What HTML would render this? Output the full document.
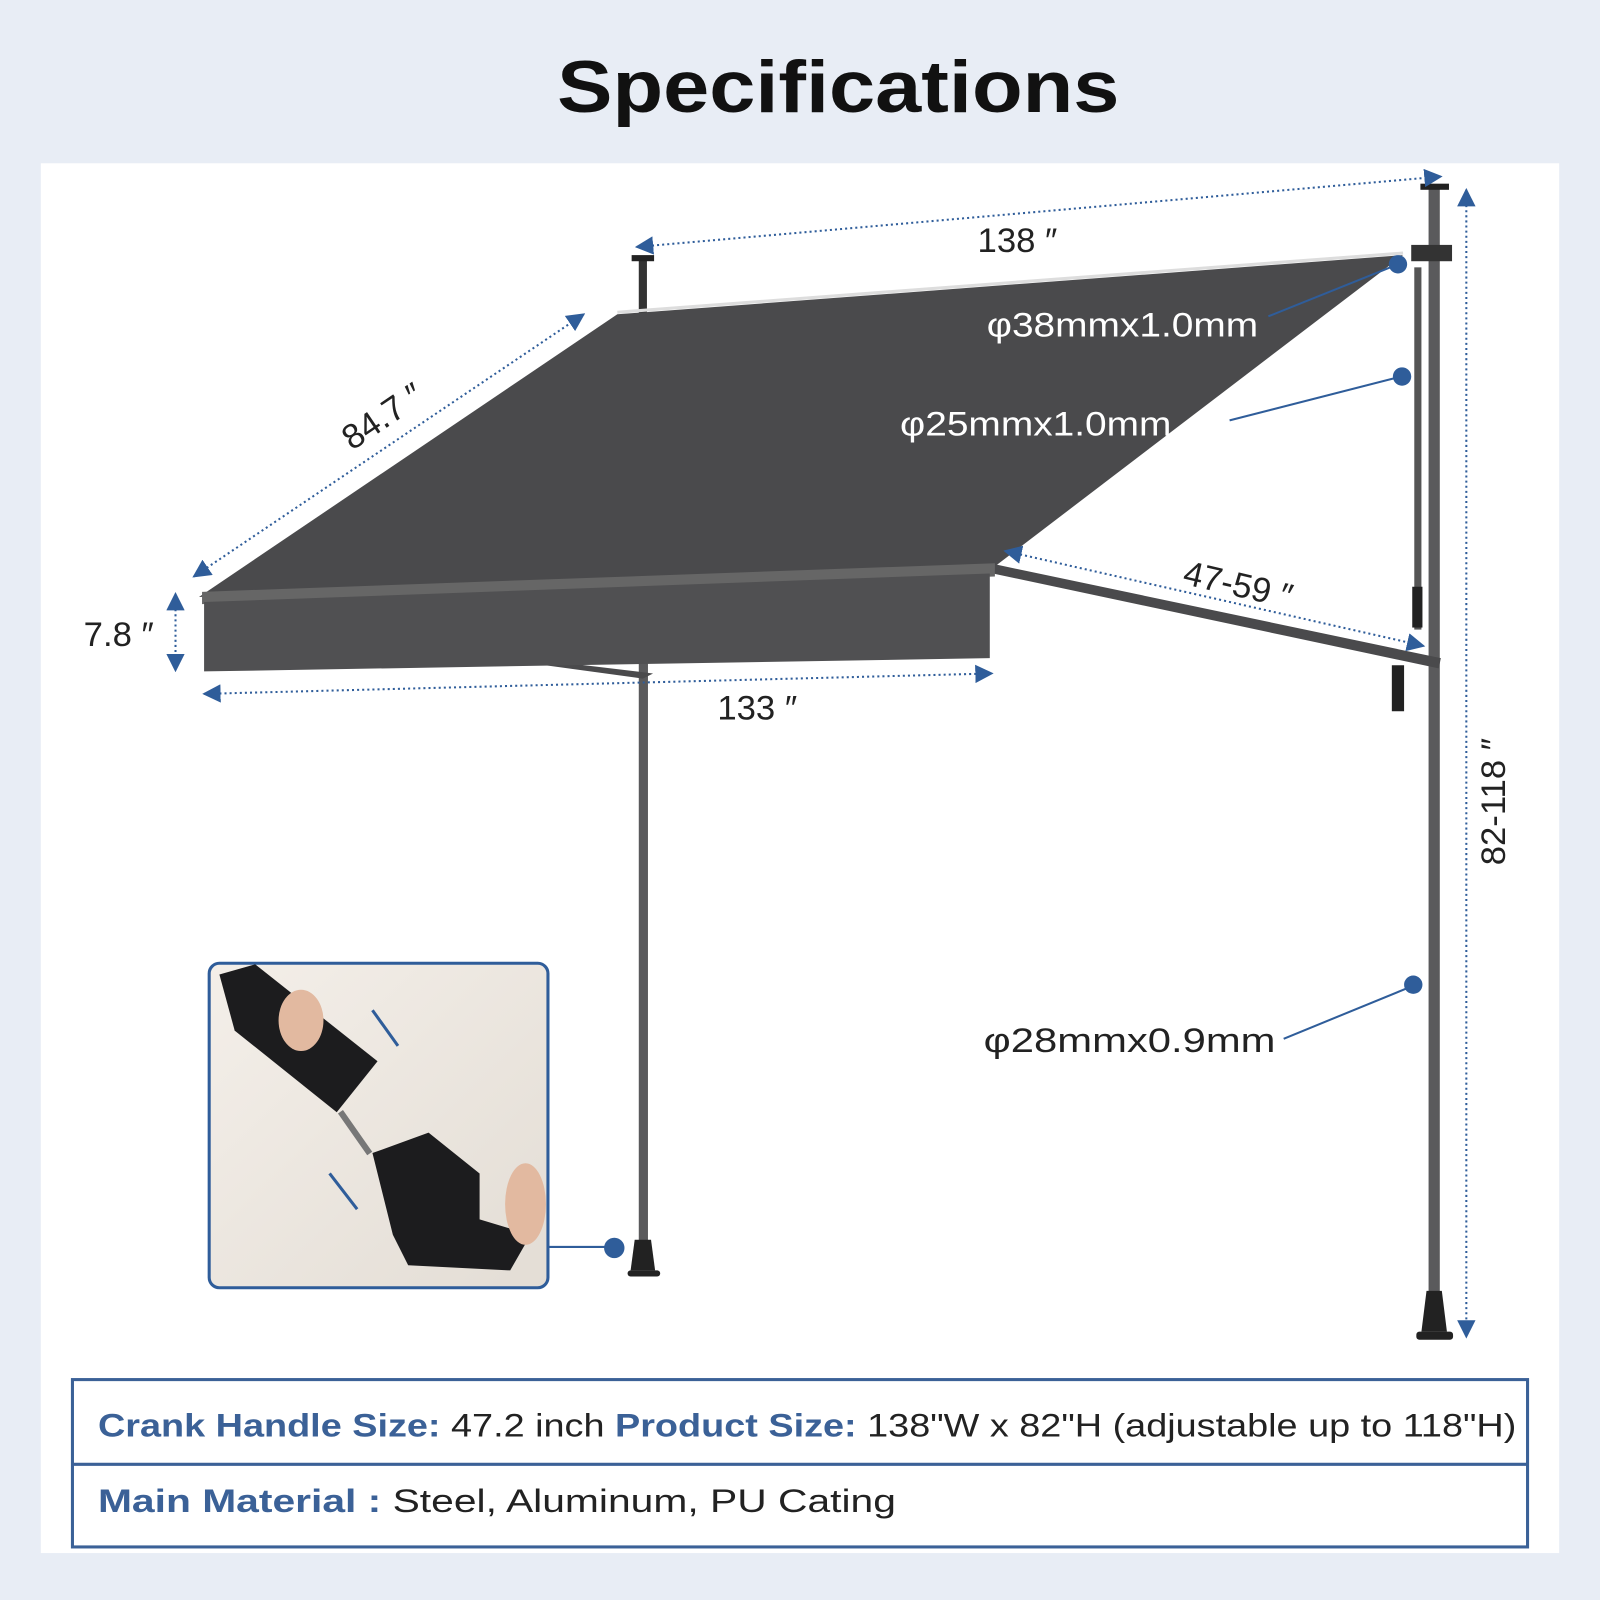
<!DOCTYPE html>
<html><head><meta charset="utf-8"><style>
html,body{margin:0;padding:0;background:#e8edf5;}
svg{display:block;}
text{font-family:"Liberation Sans",sans-serif;}
</style></head><body>
<svg width="1600" height="1600" viewBox="0 0 1568 1568" xmlns="http://www.w3.org/2000/svg">
<defs>
<marker id="a" viewBox="0 0 10 10" refX="9" refY="5" markerWidth="9" markerHeight="9" markerUnits="userSpaceOnUse" orient="auto-start-reverse"><path d="M0,0L10,5L0,10z" fill="#2f5d9a"/></marker>
<marker id="b" viewBox="0 0 10 10" refX="9" refY="5" markerWidth="18" markerHeight="18" markerUnits="userSpaceOnUse" orient="auto-start-reverse"><path d="M0,0L10,5L0,10z" fill="#2f5d9a"/></marker>
<linearGradient id="ph" x1="0" y1="0" x2="1" y2="1"><stop offset="0" stop-color="#f4efe9"/><stop offset="1" stop-color="#e3ddd5"/></linearGradient>
</defs>
<rect width="1568" height="1568" fill="#e8edf5"/>
<rect x="40" y="160" width="1488" height="1362" fill="#fff"/>
<text x="546" y="110" font-size="72" font-weight="bold" fill="#111" textLength="551" lengthAdjust="spacingAndGlyphs">Specifications</text>

<!-- poles -->
<rect x="626" y="255" width="8" height="52" fill="#333"/>
<rect x="619" y="250" width="22" height="6" fill="#222"/>
<rect x="626" y="650" width="9" height="570" fill="#5a5a5c"/>
<path d="M622,1215h16l4,30h-24z" fill="#222"/><rect x="615" y="1245" width="32" height="6" rx="3" fill="#222"/>
<rect x="1400" y="185" width="11" height="1085" fill="#5a5a5c"/>
<rect x="1392" y="180" width="28" height="6" fill="#222"/>
<path d="M1398,1265h15l5,40h-25z" fill="#222"/><rect x="1388" y="1305" width="36" height="8" rx="3" fill="#222"/>
<rect x="1386" y="262" width="7" height="355" fill="#555"/>
<rect x="1384" y="575" width="10" height="40" fill="#222"/>
<rect x="1383" y="240" width="40" height="16" fill="#333"/>
<!-- arm -->
<path d="M975,553L1412,645L1410,655L973,562z" fill="#4a4a4c"/>
<path d="M1364,652h12v45h-12z" fill="#222"/>
<path d="M520,650L630,665L640,660L540,648z" fill="#4a4a4c"/>
<!-- canvas -->
<path d="M605,308L1375,250L975,555L195,585z" fill="#4a4a4c"/>
<path d="M605,306L1375,248" stroke="#ddd" stroke-width="3"/>
<path d="M198,580L975,552L975,565L198,592z" fill="#666"/>
<path d="M200,590L970,562L970,645L200,658z" fill="#505052"/>
<!-- dimension lines -->
<g stroke="#2f5d9a" stroke-width="2" stroke-dasharray="2,3" fill="none" marker-start="url(#b)" marker-end="url(#b)">
<path d="M624,242L1412,173"/>
<path d="M190,565L572,308"/>
<path d="M172,582V657"/>
<path d="M200,680L972,660"/>
<path d="M985,540L1395,633"/>
<path d="M1437,186V1310"/>
</g>
<g fill="#222" font-size="34">
<text x="958" y="247">138 ″</text>
<text transform="translate(345,442) rotate(-34)">84.7 ″</text>
<text x="82" y="633">7.8 ″</text>
<text x="703" y="705">133 ″</text>
<text transform="translate(1158,572) rotate(13)">47-59 ″</text>
<text transform="translate(1475,848) rotate(-90)">82-118 ″</text>
</g>
<!-- callouts -->
<g stroke="#2f5d9a" stroke-width="2" fill="none">
<path d="M1243,310L1370,259"/><path d="M1205,412L1373,369"/><path d="M1258,1018L1385,966"/><path d="M538,1222H602"/>
</g>
<g fill="#2f5d9a"><circle cx="1370" cy="259" r="9"/><circle cx="1374" cy="369" r="9"/><circle cx="1385" cy="965" r="9"/><circle cx="602" cy="1223" r="10"/></g>
<text x="967" y="330" font-size="34" fill="#fff" textLength="266" lengthAdjust="spacingAndGlyphs">φ38mmx1.0mm</text>
<text x="882" y="427" font-size="34" fill="#fff" textLength="266" lengthAdjust="spacingAndGlyphs">φ25mmx1.0mm</text>
<text x="964" y="1031" font-size="34" fill="#222" textLength="286" lengthAdjust="spacingAndGlyphs">φ28mmx0.9mm</text>
<!-- photo -->
<rect x="205" y="944" width="332" height="318" rx="10" fill="url(#ph)" stroke="#2f5d9a" stroke-width="3"/>
<path d="M215,955L250,945L370,1040L330,1090L230,1010z" fill="#1c1c1e"/>
<rect x="345" y="1085" width="6" height="50" fill="#777" transform="rotate(-35 348 1110)"/>
<path d="M365,1130L420,1110L470,1150L470,1195L520,1210L500,1245L400,1240L385,1210z" fill="#1c1c1e"/>
<ellipse cx="295" cy="1000" rx="22" ry="30" fill="#e2b9a0"/>
<ellipse cx="515" cy="1180" rx="20" ry="40" fill="#e2b9a0"/>
<path d="M365,990L390,1025M323,1150L350,1185" stroke="#2f5d9a" stroke-width="3"/>
<!-- table -->
<rect x="71" y="1352" width="1426" height="164" fill="none" stroke="#3b6197" stroke-width="3"/>
<path d="M71,1435H1497" stroke="#3b6197" stroke-width="3"/>
<text x="96" y="1408" font-size="32" fill="#222" textLength="1390" lengthAdjust="spacingAndGlyphs"><tspan fill="#3b6197" font-weight="bold">Crank Handle Size:</tspan> 47.2 inch   <tspan fill="#3b6197" font-weight="bold">Product Size:</tspan> 138"W x 82"H (adjustable up to 118"H)</text>
<text x="96" y="1482" font-size="32" fill="#222" textLength="782" lengthAdjust="spacingAndGlyphs"><tspan fill="#3b6197" font-weight="bold">Main Material :</tspan> Steel,   Aluminum,   PU Cating</text>
</svg>
</body></html>
